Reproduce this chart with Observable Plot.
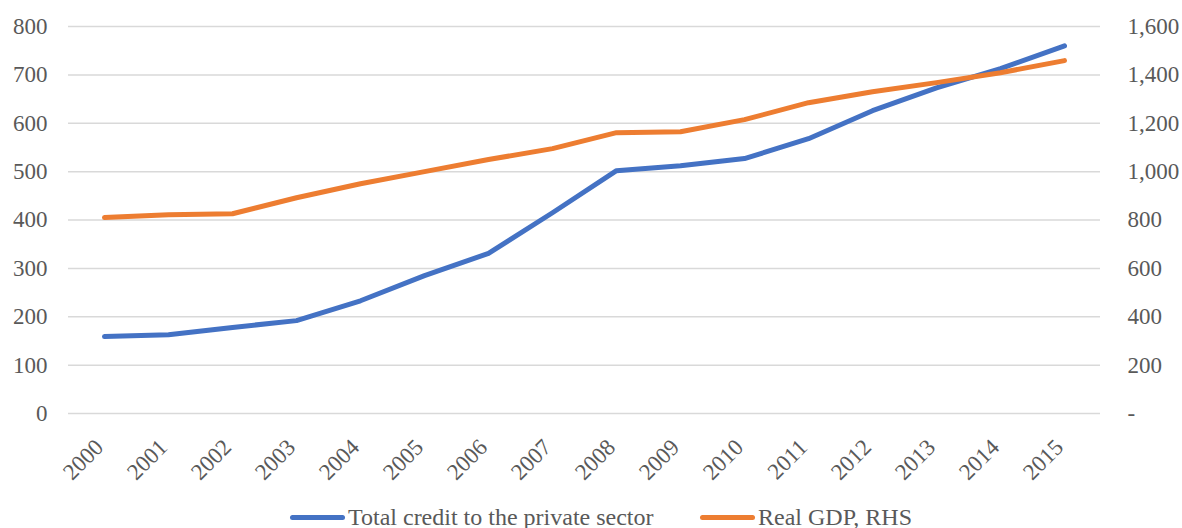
<!DOCTYPE html>
<html>
<head>
<meta charset="utf-8">
<script src="https://cdn.jsdelivr.net/npm/d3@7"></script>
<script src="https://cdn.jsdelivr.net/npm/@observablehq/plot@0.6"></script>
<style>
  html, body { margin: 0; padding: 0; background: #fff; overflow: hidden; }
  #chart { width: 1182px; height: 528px; position: relative; }
  #chart svg text { font-family: "Liberation Serif", serif !important; }
  .legend { position: absolute; left: 0; top: 504px; width: 1182px; font-family: "Liberation Serif", serif; font-size: 24px; color: #595959; white-space: nowrap; }
  .item { position: absolute; top: 0; display: flex; align-items: center; }
  .swatch { display: inline-block; width: 55px; height: 5px; border-radius: 3px; margin-right: 3px; }
</style>
</head>
<body>
<div id="chart"></div>
<script>
const years = [2000, 2001, 2002, 2003, 2004, 2005, 2006, 2007, 2008, 2009, 2010, 2011, 2012, 2013, 2014, 2015];
const credit = [159, 163, 178, 192, 233, 285, 331, 415, 502, 512, 527, 568, 626, 673, 713, 760];
const gdp = [810, 822, 826, 892, 950, 1000, 1050, 1095, 1161, 1165, 1215, 1285, 1330, 1368, 1409, 1459];
const leftTicks = [0, 100, 200, 300, 400, 500, 600, 700, 800];
const seriesNames = ["Total credit to the private sector", "Real GDP, RHS"];
const colors = ["#4472c4", "#ed7d31"];

const data = years.map((y, i) => ({year: String(y), credit: credit[i], gdp: gdp[i]}));

const plot = Plot.plot({
  width: 1182,
  height: 500,
  marginLeft: 68,
  marginRight: 82,
  marginTop: 26,
  marginBottom: 87,
  style: {fontFamily: "Liberation Serif", fontSize: "23px", color: "#595959", background: "white", overflow: "visible"},
  x: {type: "point", domain: years.map(String), padding: 0.5},
  y: {domain: [0, 800]},
  marks: [
    Plot.gridY({ticks: leftTicks, stroke: "#d9d9d9", strokeOpacity: 1, strokeWidth: 1.5}),
    Plot.axisY({ticks: leftTicks, anchor: "left", tickSize: 0, tickPadding: 21, label: null, fill: "#595959"}),
    Plot.axisY({ticks: leftTicks, anchor: "right", tickSize: 0, tickPadding: 27, label: null, fill: "#595959", textAnchor: "start",
      tickFormat: d => d === 0 ? "-" : d3.format(",")(d * 2)}),
    Plot.axisX({tickRotate: -45, tickSize: 0, tickPadding: 10, dy: 20, dx: -5, label: null, fill: "#595959"}),
    Plot.line(data, {x: "year", y: "credit", stroke: colors[0], strokeWidth: 5, strokeLinecap: "round", strokeLinejoin: "round"}),
    Plot.line(data, {x: "year", y: d => d.gdp / 2, stroke: colors[1], strokeWidth: 5, strokeLinecap: "round", strokeLinejoin: "round"})
  ]
});
const chart = document.getElementById("chart");
chart.appendChild(plot);

const legend = document.createElement("div");
legend.className = "legend";
const lefts = [290, 700];
seriesNames.forEach((name, i) => {
  const item = document.createElement("div");
  item.className = "item";
  item.style.left = lefts[i] + "px";
  const sw = document.createElement("span");
  sw.className = "swatch";
  sw.style.background = colors[i];
  item.appendChild(sw);
  const t = document.createElement("span");
  t.textContent = name;
  item.appendChild(t);
  legend.appendChild(item);
});
chart.appendChild(legend);
</script>
</body>
</html>
